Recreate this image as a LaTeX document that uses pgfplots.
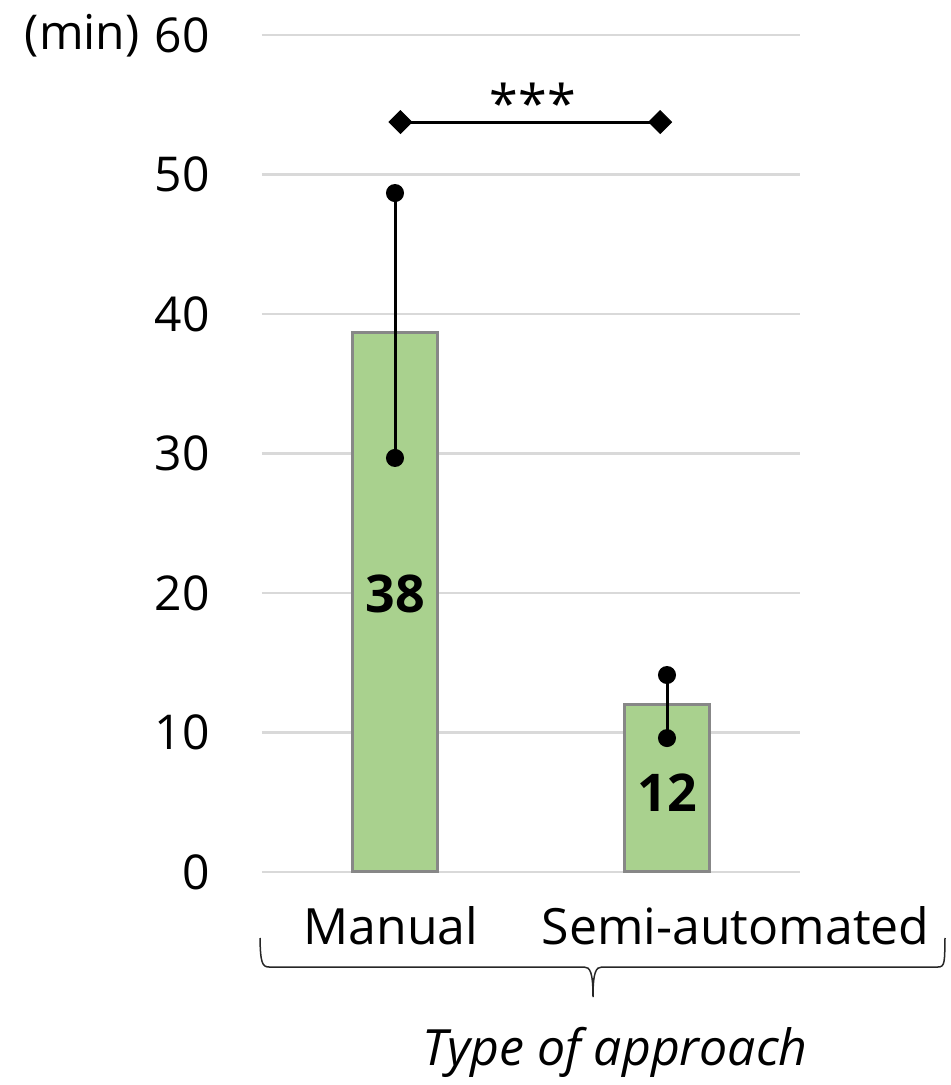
\documentclass[border=0pt]{standalone}
\usepackage{fontspec}
\setmainfont{Open Sans}
\usepackage{pgfplots}
\pgfplotsset{compat=1.18}
\definecolor{barfill}{HTML}{A9D18E}
\definecolor{barline}{HTML}{878787}
\definecolor{gridc}{HTML}{D9D9D9}
\begin{document}
\begin{tikzpicture}
\path[use as bounding box] (-131pt,-106.5pt) rectangle (344pt,436pt);
\begin{axis}[
  at={(0pt,0pt)}, anchor=south west,
  scale only axis, width=269pt, height=418.5pt,
  xmin=-0.489, xmax=1.489, ymin=0, ymax=60,
  clip=false,
  axis line style={draw=none},
  major tick length=0pt,
  tick style={draw=none},
  ytick={0,10,...,60},
  ymajorgrids,
  grid style={gridc, line width=1.2pt},
  xtick={-0.015,1.252},
  xticklabels={Manual,Semi-automated},
  /pgf/number format/assume math mode=true,
  xticklabel style={anchor=base, yshift=-36pt, inner sep=0pt, font=\fontsize{25}{30}\selectfont},
  yticklabel style={anchor=east, inner sep=0pt, xshift=-26pt, font=\fontsize{24}{28}\selectfont},
]
\addplot[ybar, bar width=42.5pt, fill=barfill, draw=barline, line width=1.5pt,
  error bars/.cd, y dir=both, y explicit,
  error bar style={black, line width=1.5pt},
  error mark=*,
  error mark options={black, fill=black, mark size=4pt, line width=1pt}]
  coordinates {(0,38.64) += (0,10.03) -= (0,8.96)
               (1,12.04) += (0,2.08) -= (0,2.44)};
\addplot[black, line width=1.5pt, mark=square*,
  mark options={rotate=45, mark size=4pt, line width=0.5pt, fill=black, solid}]
  coordinates {(0.02,53.76) (0.975,53.76)};
\node[font=\fontsize{26}{30}\selectfont] at (axis cs:0.507,55.14) {***};
\node[font=\bfseries\fontsize{26}{30}\selectfont] at (axis cs:0,19.9) {38};
\node[font=\bfseries\fontsize{26}{30}\selectfont] at (axis cs:1,5.7) {12};
\node[anchor=base east, xshift=-61pt, yshift=-7.5pt, inner sep=0pt, font=\fontsize{24}{28}\selectfont] at (axis cs:-0.489,60) {(min)};
\end{axis}
\draw[line width=0.75pt, black!85]
  (-1pt,-33pt) .. controls (-0.8pt,-45pt) and (0pt,-47.5pt) .. (3.5pt,-47.5pt)
  -- (161pt,-47.5pt) .. controls (164pt,-47.5pt) and (165.5pt,-50pt) .. (165.5pt,-62.5pt)
  .. controls (165.5pt,-50pt) and (167pt,-47.5pt) .. (170pt,-47.5pt)
  -- (338pt,-47.5pt) .. controls (341.5pt,-47.5pt) and (341.3pt,-45pt) .. (341.5pt,-33pt);
\node[anchor=base, font=\itshape\fontsize{25}{30}\selectfont] at (176.5pt,-96.5pt) {Type of approach};
\end{tikzpicture}
\end{document}
